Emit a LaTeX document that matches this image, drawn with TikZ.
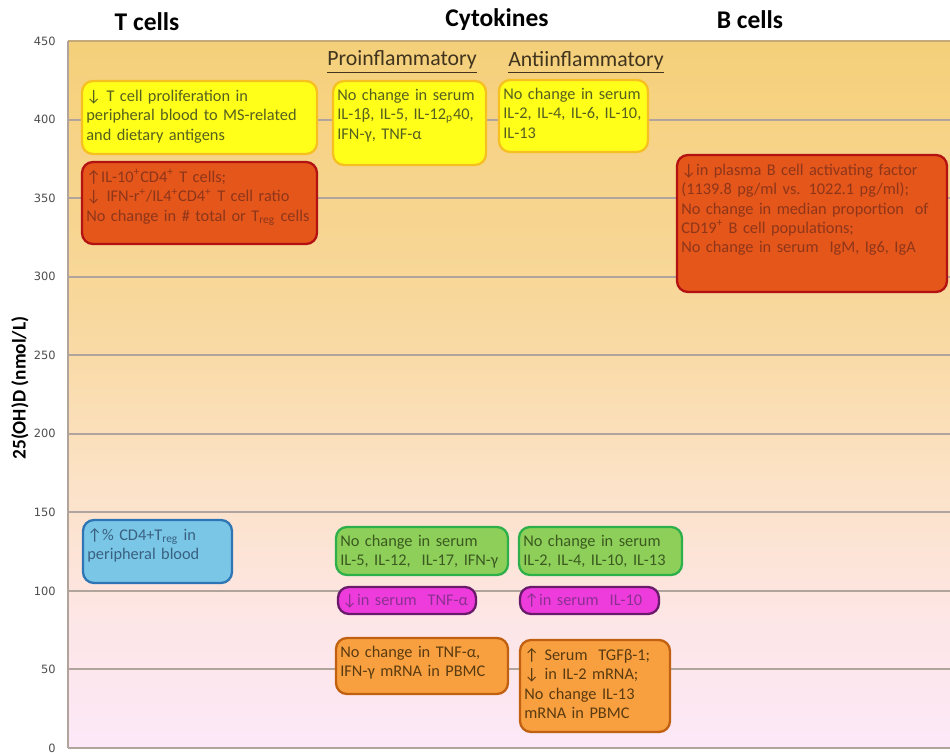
\documentclass[tikz,border=0pt]{standalone}
\usepackage{fontspec}
\setmainfont{Carlito}
\newfontfamily\tickfont{DejaVu Sans}
\usetikzlibrary{positioning}
% colours
\definecolor{bgtop}{HTML}{F5D07A}
\definecolor{bgmid}{HTML}{F8D89C}
\definecolor{bgpeach}{HTML}{FCE2C6}
\definecolor{bgpink}{HTML}{FDE6E6}
\definecolor{bgbot}{HTML}{FCE8F8}
\definecolor{gridcol}{HTML}{B0A49C}
\definecolor{topline}{HTML}{C4AA78}
\definecolor{headtext}{HTML}{40341E}
\definecolor{yfill}{HTML}{FFFF1A}
\definecolor{yline}{HTML}{F5C020}
\definecolor{ytext}{HTML}{55601E}
\definecolor{rfill}{HTML}{E4561A}
\definecolor{rline}{HTML}{B41212}
\definecolor{rtext}{HTML}{8E361A}
\definecolor{bfill}{HTML}{7AC6E6}
\definecolor{bline}{HTML}{2E75B6}
\definecolor{btext}{HTML}{3A6080}
\definecolor{gfill}{HTML}{8ECF5A}
\definecolor{gline}{HTML}{2DB04A}
\definecolor{gtext}{HTML}{3A5A20}
\definecolor{mfill}{HTML}{EE3CDC}
\definecolor{mline}{HTML}{6A1A6A}
\definecolor{mtext}{HTML}{8A3090}
\definecolor{ofill}{HTML}{F8A040}
\definecolor{oline}{HTML}{C06010}
\definecolor{otext}{HTML}{5A3A10}
\pgfdeclareverticalshading{plotbg}{100bp}{color(0bp)=(bgbot); color(25bp)=(bgbot);
  color(34bp)=(bgpink); color(44bp)=(bgpeach); color(56bp)=(bgmid); color(75bp)=(bgtop); color(100bp)=(bgtop)}
\begin{document}
\begin{tikzpicture}[x=0.02cm, y=-0.02cm,
    box/.style={line width=1.3pt, rounded corners=0.22cm},
    ybox/.style={box, fill=yfill, draw=yline},
    rbox/.style={box, fill=rfill, draw=rline},
    bbox/.style={box, fill=bfill, draw=bline},
    gbox/.style={box, fill=gfill, draw=gline},
    mbox/.style={box, fill=mfill, draw=mline},
    obox/.style={box, fill=ofill, draw=oline},
    txt/.style={anchor=north west, align=left, inner sep=0pt, text width=6cm, text height=7pt,
      font=\fontsize{9.3}{11}\selectfont},
    title/.style={font=\fontsize{14.5}{16}\selectfont\bfseries},
    head/.style={font=\fontsize{12.4}{14}\selectfont, text=headtext},
    tick/.style={font=\tickfont\fontsize{6.5}{7}\selectfont, text=black!70, anchor=east, inner sep=0pt},
    gridline/.style={draw=gridcol, line width=1.1pt}]
  \fill[white] (0,0) rectangle (950,753);
  \useasboundingbox (0,0) rectangle (950,753);
  % plot area
  \shade[shading=plotbg] (68,41) rectangle (950,748);
  \foreach \v in {0,50,...,450}{
    \pgfmathsetmacro{\yy}{748-\v*1.5711}
    \draw[gridline] (68,\yy) -- (950,\yy);
    \node[tick] (t\v) at (56,\yy) {\v};
  }
  \draw[topline, line width=1.3pt] (68,41) -- (950,41);
  \draw[gridcol, line width=1pt] (68,41) -- (68,748);
  \node[font=\fontsize{11}{12}\selectfont\bfseries, rotate=90] (ylabel) at (20,388) {25(OH)D (nmol/L)};
  % titles
  \node[title] (ttitle) at (147,22) {T cells};
  \node[title] (ctitle) at (497,20) {Cytokines};
  \node[title] (btitle) at (750,20) {B cells};
  \node[head] (prohead) at (402,62) {\underline{Proinflammatory}};
  \node[head] (antihead) at (586,62) {\underline{Antiinflammatory}};
  % high 25(OH)D
  \draw[ybox] (82,81) rectangle (317,154);
  \node[txt, text=ytext] (tprolif) at (86,89)
    {↓ T cell proliferation in\\ peripheral blood to MS-related\\ and dietary antigens};
  \draw[rbox] (82,162) rectangle (317,244);
  \node[txt, text=rtext] (tratio) at (86,170)
    {↑IL-10\textsuperscript{+}CD4\textsuperscript{+} T cells;\\
     ↓ IFN-r\textsuperscript{+}/IL4\textsuperscript{+}CD4\textsuperscript{+} T cell ratio\\
     No change in \# total or T\textsubscript{reg} cells};
  \draw[ybox] (333,81) rectangle (486,165);
  \node[txt, text=ytext] (prohigh) at (337,88)
    {No change in serum\\ IL-1β, IL-5, IL-12\textsubscript{p}40,\\ IFN-γ, TNF-α};
  \draw[ybox] (499,80) rectangle (648,152);
  \node[txt, text=ytext] (antihigh) at (503,87)
    {No change in serum\\ IL-2, IL-4, IL-6, IL-10,\\ IL-13};
  \draw[rbox] (677,155) rectangle (947,292);
  \node[txt, text=rtext] (bbaff) at (681,163)
    {↓in plasma B cell activating factor\\ (1139.8 pg/ml vs. 1022.1 pg/ml);\\
     No change in median proportion\ \ of\\ CD19\textsuperscript{+} B cell populations;\\
     No change in serum\ \ IgM, Ig6, IgA};
  % low 25(OH)D
  \draw[bbox] (83,520) rectangle (232,583);
  \node[txt, text=btext] (ttreg) at (87,528)
    {↑\% CD4+T\textsubscript{reg} in\\ peripheral blood};
  \draw[gbox] (336,527) rectangle (508,575);
  \node[txt, text=gtext] (proserum) at (340,534)
    {No change in serum\\ IL-5, IL-12,\ \ IL-17, IFN-γ};
  \draw[gbox] (519,527) rectangle (682,575);
  \node[txt, text=gtext] (antiserum) at (523,534)
    {No change in serum\\ IL-2, IL-4, IL-10, IL-13};
  \draw[mbox] (338,587) rectangle (476,614);
  \node[txt, text=mtext] (protnf) at (342,593) {↓in serum\ \ TNF-α};
  \draw[mbox] (520,587) rectangle (659,614);
  \node[txt, text=mtext] (antiil) at (524,593) {↑in serum\ \ IL-10};
  \draw[obox] (336,638) rectangle (508,694);
  \node[txt, text=otext] (promrna) at (340,645)
    {No change in TNF-α,\\ IFN-γ mRNA in PBMC};
  \draw[obox] (520,640) rectangle (670,732);
  \node[txt, text=otext] (antimrna) at (524,648)
    {↑ Serum\ \ TGFβ-1;\\ ↓ in IL-2 mRNA;\\ No change IL-13\\ mRNA in PBMC};
\end{tikzpicture}
\end{document}
